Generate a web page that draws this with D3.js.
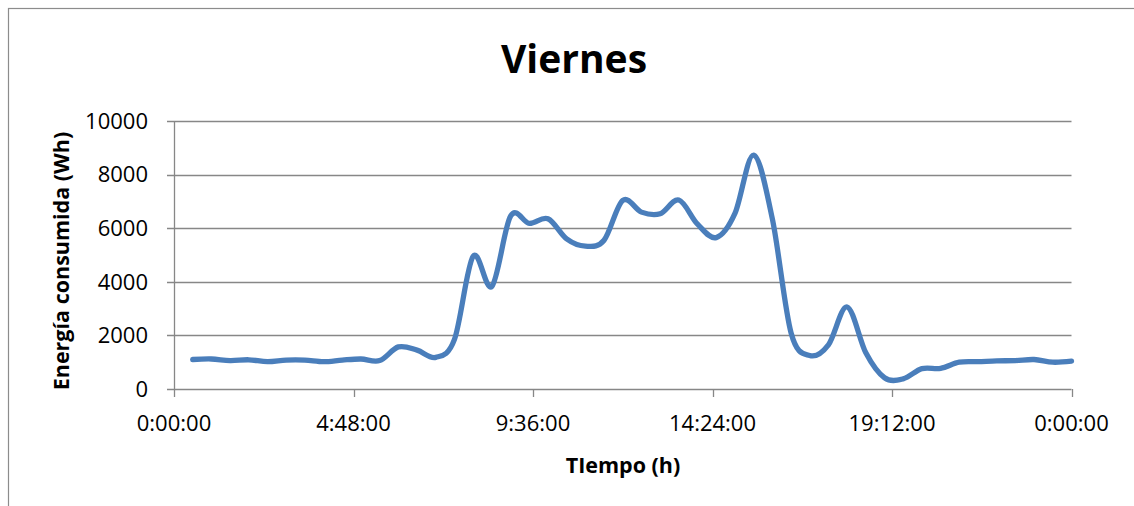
<!DOCTYPE html>
<html>
<head>
<meta charset="utf-8">
<script src="https://cdn.jsdelivr.net/npm/d3@7"></script>
<style>
  body { margin: 0; background: #fff; }
  svg { display: block; }
</style>
</head>
<body>
<div id="chart"></div>
<script>
// Viernes - energía consumida cada media hora
const horas = [0.5, 1, 1.5, 2, 2.5, 3, 3.5, 4, 4.5, 5, 5.5, 6,
  6.5, 7, 7.5, 8, 8.5, 9, 9.5, 10, 10.5, 11, 11.5, 12,
  12.5, 13, 13.5, 14, 14.5, 15, 15.5, 16, 16.5, 17, 17.5, 18,
  18.5, 19, 19.5, 20, 20.5, 21, 21.5, 22, 22.5, 23, 23.5, 24];
const energia = [1100, 1120, 1060, 1090, 1020, 1080, 1080, 1020, 1080, 1120, 1060, 1570,
  1450, 1180, 1850, 4950, 3830, 6450, 6180, 6350, 5600, 5330, 5550, 7040,
  6600, 6540, 7050, 6150, 5650, 6550, 8730, 6350, 2100, 1250, 1650, 3060,
  1350, 420, 380, 760, 770, 1000, 1020, 1050, 1060, 1100, 1000, 1040];
const xTicks = [0, 4.8, 9.6, 14.4, 19.2, 24];
const xTickLabels = ["0:00:00", "4:48:00", "9:36:00", "14:24:00", "19:12:00", "0:00:00"];
const yTicks = [0, 2000, 4000, 6000, 8000, 10000];

const width = 1134, height = 506;
const margin = { top: 121, right: 62, bottom: 117, left: 174 };
const fuente = "'Open Sans', 'Noto Sans', sans-serif";
const gris = "#878787";

const svg = d3.select("#chart").append("svg")
  .attr("width", width)
  .attr("height", height);

svg.append("rect")
  .attr("width", width).attr("height", height)
  .attr("fill", "#fff");

// marco del gráfico
svg.append("rect")
  .attr("x", 8.5).attr("y", 8.5)
  .attr("width", 1140).attr("height", 520)
  .attr("fill", "none")
  .attr("stroke", "#8c8c8c")
  .attr("stroke-width", 1.2);

const x = d3.scaleLinear()
  .domain([0, 24])
  .range([margin.left, width - margin.right - 0.5]);

const y = d3.scaleLinear()
  .domain([0, 10000])
  .range([height - margin.bottom, margin.top]);

// líneas de cuadrícula
svg.append("g")
  .selectAll("line")
  .data(yTicks)
  .join("line")
  .attr("x1", x(0) - 7)
  .attr("x2", x(24))
  .attr("y1", d => Math.round(y(d)) + 0.5)
  .attr("y2", d => Math.round(y(d)) + 0.5)
  .attr("stroke", gris)
  .attr("stroke-width", 1.3);

// eje Y
svg.append("line")
  .attr("x1", x(0) + 0.5).attr("x2", x(0) + 0.5)
  .attr("y1", y(10000)).attr("y2", y(0) + 1)
  .attr("stroke", gris).attr("stroke-width", 1.3);

svg.append("g")
  .selectAll("text")
  .data(yTicks)
  .join("text")
  .attr("x", 148)
  .attr("y", d => y(d))
  .attr("dy", "0.35em")
  .attr("text-anchor", "end")
  .attr("font-family", fuente)
  .attr("font-size", 22)
  .attr("fill", "#000")
  .text(d => d);

// eje X
svg.append("g")
  .selectAll("line")
  .data(xTicks)
  .join("line")
  .attr("x1", d => Math.round(x(d)) + 0.5)
  .attr("x2", d => Math.round(x(d)) + 0.5)
  .attr("y1", y(0))
  .attr("y2", y(0) + 8)
  .attr("stroke", gris)
  .attr("stroke-width", 1.3);

svg.append("g")
  .selectAll("text")
  .data(xTicks)
  .join("text")
  .attr("x", d => x(d))
  .attr("y", 431)
  .attr("text-anchor", "middle")
  .attr("font-family", fuente)
  .attr("font-size", 22)
  .attr("fill", "#000")
  .text((d, i) => xTickLabels[i]);

// serie
const linea = d3.line()
  .x((d, i) => x(horas[i]))
  .y(d => y(d))
  .curve(d3.curveCatmullRom.alpha(0));

svg.append("path")
  .datum(energia)
  .attr("d", linea)
  .attr("fill", "none")
  .attr("stroke", "#4a7ebb")
  .attr("stroke-width", 5.3)
  .attr("stroke-linejoin", "round")
  .attr("stroke-linecap", "round");

// títulos
svg.append("text")
  .attr("x", 574)
  .attr("y", 73)
  .attr("text-anchor", "middle")
  .attr("font-family", fuente)
  .attr("font-weight", "bold")
  .attr("font-size", 39)
  .text("Viernes");

svg.append("text")
  .attr("x", 623)
  .attr("y", 473)
  .attr("text-anchor", "middle")
  .attr("font-family", fuente)
  .attr("font-weight", "bold")
  .attr("font-size", 21.5)
  .text("TIempo (h)");

svg.append("text")
  .attr("transform", "translate(69,261) rotate(-90)")
  .attr("text-anchor", "middle")
  .attr("font-family", fuente)
  .attr("font-weight", "bold")
  .attr("font-size", 21.5)
  .text("Energía consumida (Wh)");
</script>
</body>
</html>
